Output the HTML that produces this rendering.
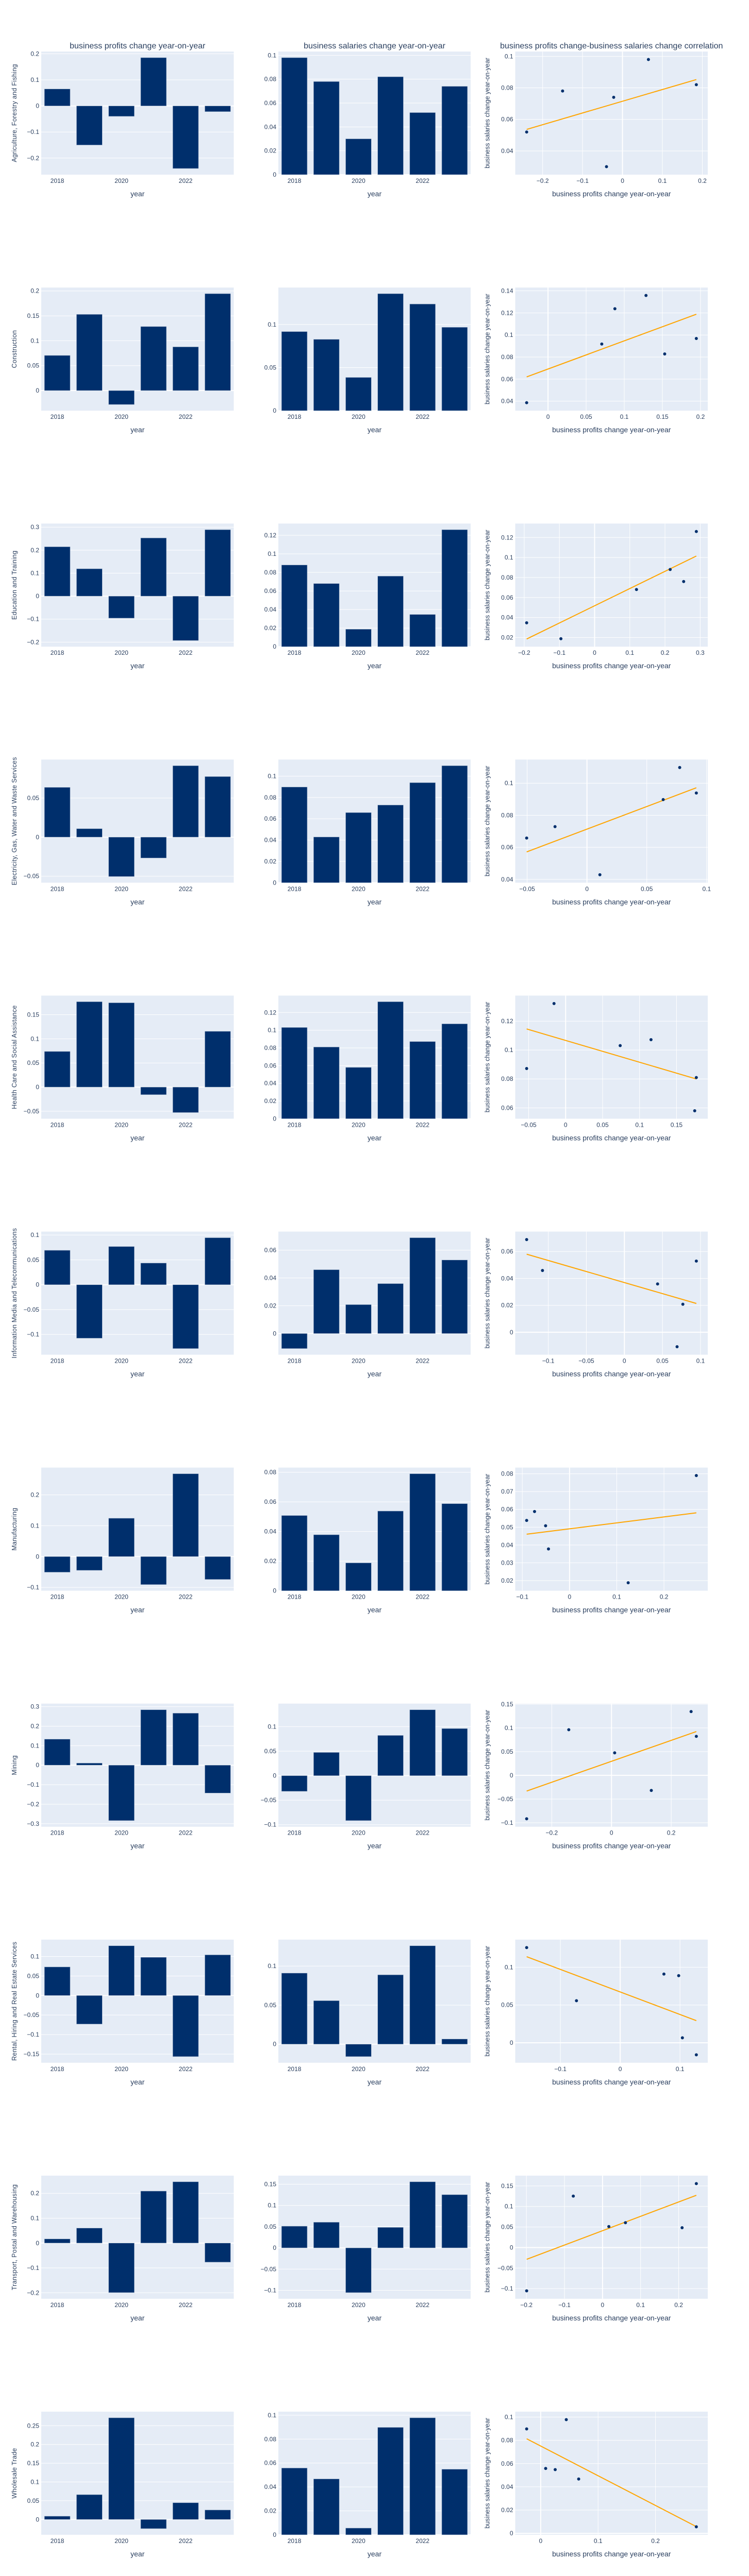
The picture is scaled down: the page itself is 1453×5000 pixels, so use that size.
<!DOCTYPE html>
<html><head><meta charset="utf-8">
<style>
html,body{margin:0;padding:0;background:#fff;width:1453px;height:5000px;overflow:hidden;}
svg{display:block;}
svg text{font-family:"Liberation Sans",sans-serif;fill:#2a3f5f;}
</style></head>
<body>
<svg id="fig" width="1453" height="5000" xmlns="http://www.w3.org/2000/svg"></svg>
<script>
const years = [2018, 2019, 2020, 2021, 2022, 2023];
const industries = ["Agriculture, Forestry and Fishing","Construction","Education and Training","Electricity, Gas, Water and Waste Services","Health Care and Social Assistance","Information Media and Telecommunications","Manufacturing","Mining","Rental, Hiring and Real Estate Services","Transport, Postal and Warehousing","Wholesale Trade"];
const profitsAgri = [0.065,-0.15,-0.04,0.185,-0.24,-0.022];
const salariesAgri = [0.098,0.078,0.030,0.082,0.052,0.074];
const profitsConstr = [0.0705,0.153,-0.028,0.1285,0.0877,0.1945];
const salariesConstr = [0.0918,0.0828,0.0386,0.1358,0.1238,0.0968];
const profitsEdu = [0.2147,0.119,-0.0957,0.253,-0.193,0.289];
const salariesEdu = [0.088,0.068,0.0188,0.076,0.0347,0.126];
const profitsElec = [0.0637,0.0108,-0.0504,-0.0267,0.0914,0.0775];
const salariesElec = [0.0898,0.0429,0.0658,0.0729,0.0939,0.1098];
const profitsHealth = [0.0738,0.1768,0.1746,-0.0157,-0.0527,0.1155];
const salariesHealth = [0.1031,0.081,0.058,0.1322,0.0872,0.1072];
const profitsInfo = [0.0692,-0.1076,0.0768,0.0436,-0.1284,0.0945];
const salariesInfo = [-0.0108,0.0459,0.0208,0.0359,0.0689,0.0529];
const profitsManuf = [-0.0507,-0.0446,0.1242,-0.0908,0.2685,-0.0741];
const salariesManuf = [0.0508,0.0378,0.0188,0.0538,0.079,0.0588];
const profitsMining = [0.1333,0.0106,-0.284,0.284,0.2665,-0.143];
const salariesMining = [-0.0319,0.0474,-0.0916,0.0821,0.1344,0.0961];
const profitsRental = [0.0731,-0.0731,0.1273,0.0978,-0.1564,0.104];
const salariesRental = [0.091,0.0557,-0.0159,0.0888,0.126,0.0066];
const profitsTransport = [0.0166,0.0602,-0.1993,0.209,0.2464,-0.0768];
const salariesTransport = [0.0511,0.0604,-0.1054,0.0483,0.1557,0.1253];
const profitsWholesale = [0.0087,0.0662,0.2711,-0.0244,0.0446,0.0253];
const salariesWholesale = [0.0558,0.0467,0.0056,0.0898,0.0978,0.0548];
const profitSeries = [profitsAgri,profitsConstr,profitsEdu,profitsElec,profitsHealth,profitsInfo,profitsManuf,profitsMining,profitsRental,profitsTransport,profitsWholesale];
const salarySeries = [salariesAgri,salariesConstr,salariesEdu,salariesElec,salariesHealth,salariesInfo,salariesManuf,salariesMining,salariesRental,salariesTransport,salariesWholesale];
const colTitles = ["business profits change year-on-year","business salaries change year-on-year","business profits change-business salaries change correlation"];

const NS = "http://www.w3.org/2000/svg";
const svg = document.getElementById('fig');
const COLX = [[80,453.5],[540,913],[999.5,1373]];
const PH = 239, BAR = "#002f6c";
function el(tag, attrs, parent){const e=document.createElementNS(NS,tag);for(const k in attrs)e.setAttribute(k,attrs[k]);(parent||svg).appendChild(e);return e;}
function fmt(v,dt){let d=Math.max(0,-Math.floor(Math.log10(dt)+1e-9));let s=parseFloat(v.toFixed(d+1)).toString();if(Math.abs(v)<dt*1e-6)s="0";return s.replace("-","\u2212");}
function niceDt(span,len,minPx){const nt=Math.min(9,Math.max(4,len/minPx))+1;const r=span/nt;const p=Math.pow(10,Math.floor(Math.log10(r)));const m=r/p;const c=[1,2,5,10].find(x=>x>=m-1e-9);return c*p;}
function barRange(vals,len){let lo=Math.min(0,...vals),hi=Math.max(0,...vals);const span=hi-lo;const padFrac=0.05;const nLo=lo<0,nHi=hi>0;const k=(nLo?1:0)+(nHi?1:0);const tot=span/(1-padFrac*k);return [nLo?lo-(tot*padFrac):0, nHi?hi+(tot*padFrac):0];}
function scRange(vals,len){const lo=Math.min(...vals),hi=Math.max(...vals);const p=0.05*len+3.5;const tot=(hi-lo)*len/(len-2*p);const pad=(tot-(hi-lo))/2;return [lo-pad,hi+pad];}

function axes(g,x0,x1,y0,y1,xr,yr,xTicks,yTicks,xZero,yZero){
  el('rect',{x:x0,y:y0,width:x1-x0,height:y1-y0,fill:"#e5ecf6"},g);
  const sx=v=>x0+(v-xr[0])/(xr[1]-xr[0])*(x1-x0);
  const sy=v=>y1-(v-yr[0])/(yr[1]-yr[0])*(y1-y0);
  const ydt=niceDt(yr[1]-yr[0],y1-y0,40);
  for(let t=Math.ceil(yr[0]/ydt-1e-9)*ydt;t<=yr[1]+1e-12;t+=ydt){
    const yy=sy(t);const z=Math.abs(t)<ydt*1e-6;
    el('line',{x1:x0,x2:x1,y1:yy,y2:yy,stroke:"#fff","stroke-width":z&&yZero?2:1},g);
    const tx=el('text',{x:x0-4,y:yy+4,"text-anchor":"end","font-size":12},g);tx.textContent=fmt(t,ydt);
  }
  if(xTicks){
    const xdt=niceDt(xr[1]-xr[0],x1-x0,80);
    for(let t=Math.ceil(xr[0]/xdt-1e-9)*xdt;t<=xr[1]+1e-12;t+=xdt){
      const xx=sx(t);const z=Math.abs(t)<xdt*1e-6;
      if(xZero) el('line',{x1:xx,x2:xx,y1:y0,y2:y1,stroke:"#fff","stroke-width":z?2:1},g);
      const tx=el('text',{x:xx,y:y1+16,"text-anchor":"middle","font-size":12},g);tx.textContent=fmt(t,xdt);
    }
  }
  return [sx,sy];
}

for(let r=0;r<11;r++){
  const y0=100+r*458.1, y1=y0+PH;
  const prof=profitSeries[r], sal=salarySeries[r];
  [prof,sal].forEach((vals,c)=>{
    const [x0,x1]=COLX[c];
    const g=el('g',{});
    
    
    const yr=barRange(vals,PH);const xr=[2017.5,2023.5];
    const [sx,sy]=axes(g,x0,x1,y0,y1,xr,yr,false,true,false,true);
    [2018,2020,2022].forEach(t=>{const tx=el('text',{x:sx(t),y:y1+16,"text-anchor":"middle","font-size":12},g);tx.textContent=t;});
    years.forEach((yv,i)=>{
      const v=vals[i];const a=sy(0),b=sy(v);
      const rc=el('rect',{x:sx(yv-0.4),width:sx(yv+0.4)-sx(yv-0.4),y:Math.min(a,b),height:Math.abs(a-b),fill:BAR,stroke:"#9fb0c8","stroke-width":0.6},g);
      
      
    });
    const xt=el('text',{x:(x0+x1)/2,y:y1+42,"text-anchor":"middle","font-size":14},g);xt.textContent="year";
    
  });
  {
    const [x0,x1]=COLX[2];
    const g=el('g',{});
    
    
    const xr=scRange(prof,x1-x0), yr=scRange(sal,PH);
    const [sx,sy]=axes(g,x0,x1,y0,y1,xr,yr,true,true,true,true);
    const n=prof.length;const mx=prof.reduce((a,b)=>a+b)/n,my=sal.reduce((a,b)=>a+b)/n;
    let sxy=0,sxx=0;for(let i=0;i<n;i++){sxy+=(prof[i]-mx)*(sal[i]-my);sxx+=(prof[i]-mx)**2;}
    const slope=sxy/sxx,icpt=my-slope*mx;
    const lo=Math.min(...prof),hi=Math.max(...prof);
    const ln=el('line',{x1:sx(lo),y1:sy(icpt+slope*lo),x2:sx(hi),y2:sy(icpt+slope*hi),stroke:"#ffa500","stroke-width":2},g);
    
    for(let i=0;i<n;i++){
      const p=el('circle',{cx:sx(prof[i]),cy:sy(sal[i]),r:3,fill:BAR},g);
      
      
    }
    const xt=el('text',{x:(x0+x1)/2,y:y1+42,"text-anchor":"middle","font-size":14},g);xt.textContent="business profits change year-on-year";
    
    const yt=el('text',{x:0,y:0,"text-anchor":"middle","font-size":12.5,transform:`translate(${x0-50},${(y0+y1)/2}) rotate(-90)`},g);yt.textContent="business salaries change year-on-year";
    
  }
  const lab=el('text',{x:0,y:0,"text-anchor":"middle","font-size":12.5,"letter-spacing":"0.3",transform:`translate(${32},${(y0+y1)/2}) rotate(-90)`});
  lab.textContent=industries[r];
  
  
}
colTitles.forEach((t,c)=>{
  const tx=el('text',{x:(COLX[c][0]+COLX[c][1])/2,y:94,"text-anchor":"middle","font-size":16});
  tx.textContent=t;
  
  
});
</script>
</body></html>
